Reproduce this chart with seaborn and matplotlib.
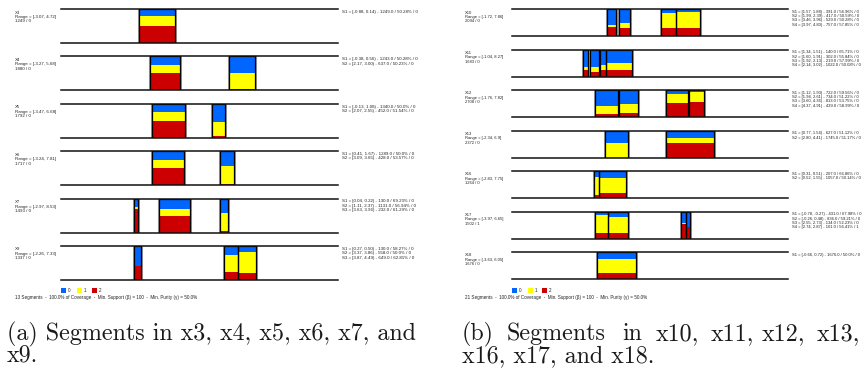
import numpy as np
import matplotlib
matplotlib.use("Agg")
import matplotlib.pyplot as plt
from matplotlib.patches import Rectangle
import seaborn as sns

# ---- data: left panel (x3 .. x9)
left_names = ['X3', 'X4', 'X5', 'X6', 'X7', 'X9']
left_ranges = [(-3.07, 4.72), (-3.27, 5.68), (-3.47, 6.68), (-3.24, 7.81), (-2.97, 8.53), (-2.26, 7.33)]
left_lows = [[-0.88], [-0.38, 2.17], [-0.13, 2.07], [0.41, 3.09], [0.04, 1.11, 3.63], [0.27, 3.37, 3.87]]
left_highs = [[0.14], [0.56, 3.00], [1.08, 2.55], [1.67, 3.65], [0.22, 2.37, 3.96], [0.50, 3.86, 4.49]]
left_support = [[1249], [1243, 637], [1340, 452], [1289, 428], [130, 1131, 232], [130, 558, 649]]
left_purity = [[50.28], [50.28, 50.23], [50.0, 51.54], [50.0, 53.57], [69.23, 56.94, 61.29], [58.27, 50.0, 62.81]]
left_errors = [[0], [0, 0], [0, 0], [0, 0], [0, 0, 0], [0, 0, 0]]
left_blue = [[0.22], [0.25, 0.48], [0.24, 0.53], [0.26, 0.43], [0.26, 0.31, 0.43], [0.59, 0.27, 0.18]]
left_yellow = [[0.28], [0.24, 0.49], [0.27, 0.41], [0.24, 0.53], [0.05, 0.21, 0.53], [0.00, 0.48, 0.62]]
left_red = [[0.50], [0.51, 0.03], [0.49, 0.06], [0.50, 0.04], [0.69, 0.48, 0.04], [0.41, 0.25, 0.20]]

# ---- data: right panel (x10 .. x18)
right_names = ['X10', 'X11', 'X12', 'X13', 'X16', 'X17', 'X18']
right_ranges = [(-1.72, 7.86), (-1.04, 8.27), (-1.76, 7.82), (-2.34, 6.9), (-2.83, 7.75), (-3.97, 6.65), (-3.63, 6.05)]
right_lows = [[1.57, 1.99, 3.46, 3.97], [1.34, 1.60, 1.92, 2.14], [1.12, 1.94, 3.60, 4.37],
              [0.77, 2.80], [0.31, 0.52], [-0.78, -0.26, 2.55, 2.74], [-0.66]]
right_highs = [[1.88, 2.39, 3.96, 4.80], [1.51, 1.91, 2.13, 3.02], [1.93, 2.61, 4.36, 4.91],
               [1.54, 4.41], [0.51, 1.55], [-0.27, 0.48, 2.73, 2.87], [0.72]]
right_support = [[391, 417, 529, 757], [140, 302, 219, 1022], [722, 734, 813, 439],
                 [627, 1745], [207, 1057], [431, 836, 134, 101], [1676]]
right_purity = [[56.96, 50.59, 50.28, 57.85], [65.71, 55.84, 57.99, 50.08], [59.56, 51.22, 53.75, 58.99],
                [51.12, 51.17], [66.86, 50.14], [67.98, 59.21, 52.23, 56.41], [50.0]]
right_errors = [[0, 0, 0, 0], [0, 0, 0, 0], [0, 0, 0, 0], [0, 0], [0, 0], [0, 0, 0, 1], [0]]
right_blue = [[0.59, 0.51, 0.16, 0.10], [0.66, 0.66, 0.56, 0.51], [0.58, 0.52, 0.15, 0.06],
              [0.48, 0.26], [0.21, 0.27], [0.14, 0.21, 0.44, 0.57], [0.27]]
right_yellow = [[0.07, 0.19, 0.54, 0.60], [0.11, 0.19, 0.20, 0.24], [0.31, 0.33, 0.32, 0.37],
                [0.52, 0.22], [0.67, 0.53], [0.67, 0.57, 0.04, 0.00], [0.50]]
right_red = [[0.34, 0.30, 0.30, 0.30], [0.23, 0.15, 0.24, 0.25], [0.11, 0.15, 0.53, 0.57],
             [0.00, 0.52], [0.12, 0.20], [0.19, 0.22, 0.52, 0.43], [0.23]]

class_labels = ['0', '1', '2']
BLUE, YELLOW, RED = '#0066ff', '#ffff00', '#cc0000'

sns.set_theme(style='white')
plt.rcParams['font.family'] = ['Liberation Sans', 'DejaVu Sans']

W, H = 867, 371
fig = plt.figure(figsize=(W / 100, H / 100), dpi=100)


def fx(px):
    return px / W


def fy(py):
    return 1 - py / H


def draw_panel(names, ranges, lows, highs, support, purity, errors, blue, yellow, red,
               x0, width, top0, step, height, label_x, stats_x, fs, lsp):
    for i, name in enumerate(names):
        top = top0 + step * i
        ax = fig.add_axes([fx(x0), fy(top + height), width / W, height / H])
        lo = np.array(lows[i])
        wd = np.array(highs[i]) - lo
        r = np.array(red[i])
        y = np.array(yellow[i])
        b = np.array(blue[i])
        # grey shadow behind each segment
        ax.bar(lo, np.ones(len(lo)), width=wd, align='edge', fill=False,
               edgecolor='#9a9a9a', linewidth=2.2)
        ax.bar(lo, r, width=wd, align='edge', color=RED, linewidth=0)
        ax.bar(lo, y, width=wd, bottom=r, align='edge', color=YELLOW, linewidth=0)
        ax.bar(lo, b, width=wd, bottom=r + y, align='edge', color=BLUE, linewidth=0)
        ax.bar(lo, np.ones(len(lo)), width=wd, align='edge', fill=False,
               edgecolor='black', linewidth=0.9)
        ax.set_xlim(*ranges[i])
        ax.set_ylim(0, 1)
        ax.set_xticks([])
        ax.set_yticks([])
        sns.despine(ax=ax, left=True, right=True, top=False, bottom=False)
        for s in ['top', 'bottom']:
            ax.spines[s].set_color('#111111')
            ax.spines[s].set_linewidth(1.1)

        total = sum(support[i])
        err = sum(errors[i])
        fig.text(fx(label_x), fy(top + 1.5),
                 f"{name}\nRange = [{ranges[i][0]}, {ranges[i][1]}]\n{total} / {err}",
                 fontsize=fs, va='top', ha='left', linespacing=lsp, color='#222222')
        lines = []
        for k in range(len(lows[i])):
            lines.append(f"S{k + 1} = [{lows[i][k]:.2f}, {highs[i][k]:.2f}) - "
                         f"{support[i][k]:.1f} / {purity[i][k]}% / {errors[i][k]}")
        fig.text(fx(stats_x), fy(top + 0.8), "\n".join(lines),
                 fontsize=fs, va='top', ha='left', linespacing=lsp, color='#222222')


draw_panel(left_names, left_ranges, left_lows, left_highs, left_support, left_purity,
           left_errors, left_blue, left_yellow, left_red,
           x0=61, width=277, top0=9, step=47.4, height=34,
           label_x=15, stats_x=342, fs=3.2, lsp=1.15)
draw_panel(right_names, right_ranges, right_lows, right_highs, right_support, right_purity,
           right_errors, right_blue, right_yellow, right_red,
           x0=512, width=276, top0=9, step=40.5, height=27,
           label_x=465, stats_x=792, fs=3.0, lsp=1.1)


def legend(xs, y):
    for x, c, lab in zip(xs, [BLUE, YELLOW, RED], class_labels):
        fig.add_artist(Rectangle((fx(x), fy(y + 2.5)), 5 / W, 5 / H, transform=fig.transFigure,
                                 facecolor=c, edgecolor='none'))
        fig.text(fx(x + 6.5), fy(y), lab, fontsize=3.3, va='center', ha='left', color='#222222')


legend([61, 77, 92], 290)
legend([512, 528, 542], 290)

footer = "{} Segments  -  100.0% of Coverage  -  Min. Support (\u03b2) = 100  -  Min. Purity (\u03b3) = 50.0%"
fig.text(fx(15), fy(298), footer.format(13), fontsize=3.3, va='center', ha='left', color='#222222')
fig.text(fx(465), fy(298), footer.format(21), fontsize=3.3, va='center', ha='left', color='#222222')

# captions
cap = dict(fontsize=17.3, family='cmr10', va='baseline', ha='left', color='#1a1a1a')
fig.text(fx(7), fy(340), "(a) Segments in x3, x4, x5, x6, x7, and", **cap)
fig.text(fx(7), fy(362), "x9.", **cap)
right_words = ["(b)", "Segments", "in", "x10,", "x11,", "x12,", "x13,"]
right_word_x = [462, 507, 622, 656, 711, 762, 817]
for wx, word in zip(right_word_x, right_words):
    fig.text(fx(wx), fy(340), word, **cap)
fig.text(fx(462), fy(362), "x16, x17, and x18.", **cap)

fig.savefig('out.png', dpi=100)
